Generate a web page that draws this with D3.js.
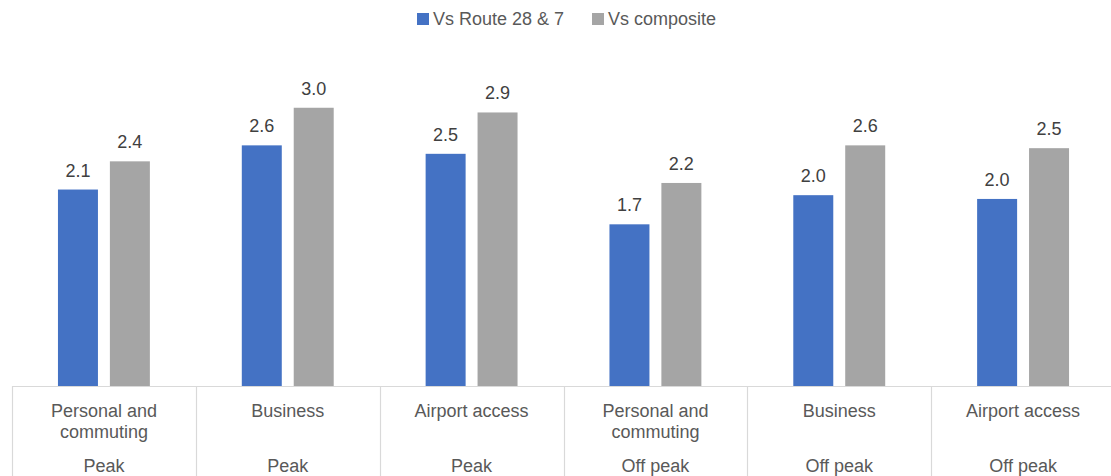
<!DOCTYPE html>
<html>
<head>
<meta charset="utf-8">
<script src="https://cdn.jsdelivr.net/npm/d3@7"></script>
<style>
  html, body { margin: 0; padding: 0; background: #fff; }
  text { font-family: "Liberation Sans", Arial, sans-serif; fill: #595959; }
  text.lbl { fill: #404040; }
</style>
</head>
<body>
<div id="wrapper"></div>
<script>
// Chart values
const categories = ["Personal and|commuting", "Business", "Airport access",
                    "Personal and|commuting", "Business", "Airport access"];
const periods = ["Peak", "Peak", "Peak", "Off peak", "Off peak", "Off peak"];
const seriesNames = ["Vs Route 28 & 7", "Vs composite"];
const vsRoute = [2.09, 2.56, 2.47, 1.72, 2.03, 1.99];
const vsComposite = [2.39, 2.96, 2.91, 2.16, 2.56, 2.53];
const seriesColors = ["#4472C4", "#A5A5A5"];

function buildChart() {
    const dimension = {
        width: 1111,
        height: 476,
        margin: { top: 57, right: -4, bottom: 90, left: 12 },
    };
    dimension.boundedWidth = dimension.width - dimension.margin.left - dimension.margin.right;
    dimension.boundedHeight = dimension.height - dimension.margin.top - dimension.margin.bottom;

    const wrapper = d3.select("#wrapper")
        .append("svg")
        .attr("width", dimension.width)
        .attr("height", dimension.height);

    const bounds = wrapper.append("g")
        .attr("transform", `translate(${dimension.margin.left},${dimension.margin.top})`);

    // one row per category, with both series
    const rows = categories.map((c, i) => ({
        idx: i,
        values: [vsRoute[i], vsComposite[i]],
    }));

    // scales
    const x0 = d3.scaleBand()
        .domain(d3.range(categories.length))
        .range([0, dimension.boundedWidth]);

    const x1 = d3.scaleBand()
        .domain([0, 1])
        .range([0, x0.bandwidth()])
        .paddingInner(0.23)
        .paddingOuter(0.885);

    const y = d3.scaleLinear()
        .domain([0, 3.5])
        .range([dimension.boundedHeight, 0]);

    const fmt = d3.format(".1f");

    // bars
    const groups = bounds.selectAll(".group")
        .data(rows)
        .join("g")
        .attr("class", "group")
        .attr("transform", d => `translate(${x0(d.idx)},0)`);

    groups.selectAll("rect")
        .data(d => d.values.map((v, s) => ({ v, s })))
        .join("rect")
        .attr("x", d => x1(d.s))
        .attr("width", x1.bandwidth())
        .attr("y", d => y(d.v))
        .attr("height", d => y(0) - y(d.v))
        .attr("fill", d => seriesColors[d.s]);

    // data labels
    groups.selectAll(".lbl")
        .data(d => d.values.map((v, s) => ({ v, s })))
        .join("text")
        .attr("class", "lbl")
        .attr("x", d => x1(d.s) + x1.bandwidth() / 2)
        .attr("y", d => y(d.v) - 13)
        .attr("text-anchor", "middle")
        .style("font-size", "18px")
        .text(d => fmt(d.v));

    // category axis: baseline + separators
    const lineColor = "#D9D9D9";
    bounds.append("line")
        .attr("x1", 0).attr("x2", dimension.boundedWidth)
        .attr("y1", y(0) + 0.5).attr("y2", y(0) + 0.5)
        .attr("stroke", lineColor).attr("stroke-width", 1);

    const seps = d3.range(categories.length + 1).map(i => i * x0.step());
    bounds.selectAll(".sep")
        .data(seps)
        .join("line")
        .attr("class", "sep")
        .attr("x1", d => Math.round(d) + 0.5).attr("x2", d => Math.round(d) + 0.5)
        .attr("y1", y(0)).attr("y2", dimension.height)
        .attr("stroke", lineColor).attr("stroke-width", 1.2);

    // category labels (level 1)
    const catLabels = bounds.selectAll(".cat")
        .data(rows)
        .join("text")
        .attr("class", "cat")
        .attr("text-anchor", "middle")
        .style("font-size", "18px")
        .attr("transform", d => `translate(${x0(d.idx) + x0.bandwidth() / 2},${y(0) + 31})`);

    catLabels.selectAll("tspan")
        .data(d => categories[d.idx].split("|"))
        .join("tspan")
        .attr("x", 0)
        .attr("dy", (d, i) => i === 0 ? 0 : 21)
        .text(d => d);

    // period labels (level 2)
    bounds.selectAll(".period")
        .data(rows)
        .join("text")
        .attr("class", "period")
        .attr("text-anchor", "middle")
        .style("font-size", "18px")
        .attr("x", d => x0(d.idx) + x0.bandwidth() / 2)
        .attr("y", y(0) + 86)
        .text(d => periods[d.idx]);

    // legend
    const legend = wrapper.append("g");
    const legendX = [417, 592];
    seriesNames.forEach((name, i) => {
        legend.append("rect")
            .attr("x", legendX[i]).attr("y", 13)
            .attr("width", 12).attr("height", 12)
            .attr("fill", seriesColors[i]);
        legend.append("text")
            .attr("x", legendX[i] + 16).attr("y", 25)
            .style("font-size", "18px")
            .text(name);
    });
}

buildChart();
</script>
</body>
</html>
